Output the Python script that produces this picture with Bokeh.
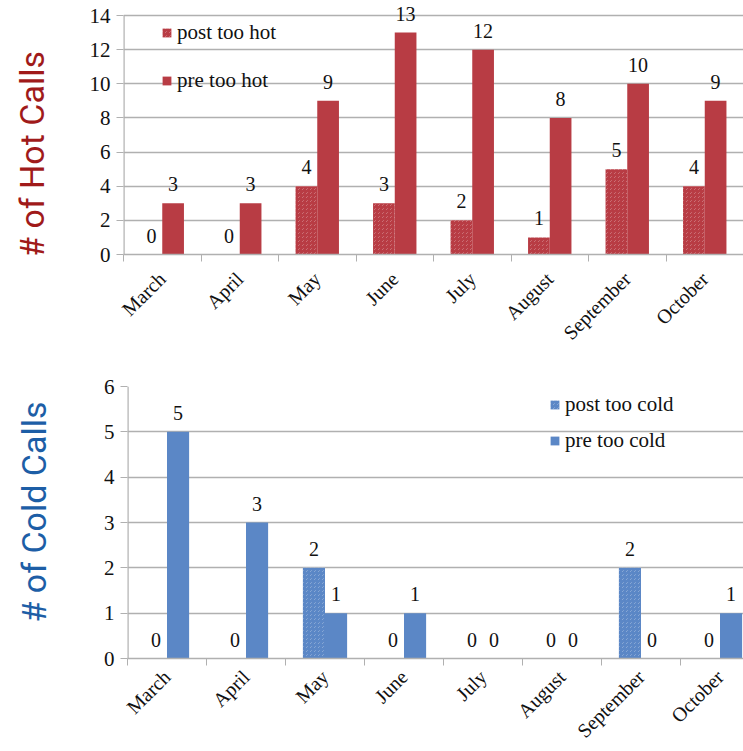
import math
from bokeh.plotting import figure
from bokeh.models import ColumnDataSource, FixedTicker, Legend, LegendItem, LabelSet, Label
from bokeh.layouts import column, row
from bokeh.embed import file_html
from bokeh.resources import INLINE

months = ["March", "April", "May", "June", "July", "August", "September", "October"]
hot_post = [0, 0, 4, 3, 2, 1, 5, 4]
hot_pre = [3, 3, 9, 13, 12, 8, 10, 9]
cold_post = [0, 0, 2, 0, 0, 0, 2, 0]
cold_pre = [5, 3, 1, 1, 0, 0, 0, 1]
hot_yticks = [0, 2, 4, 6, 8, 10, 12, 14]
cold_yticks = [0, 1, 2, 3, 4, 5, 6]

SERIF = "Liberation Serif"
GRID = "#b0b0b0"
BW = 0.28
TITLE_W = 70


def make(post, pre, yticks, y_end, color, names, frame_w, x_end, frame_h,
         left, top, bottom, legend_loc, spacing, standoff):
    n = len(months)
    centers = [i + 0.5 for i in range(n)]
    p = figure(width=743 - TITLE_W, frame_width=frame_w, frame_height=frame_h,
               x_range=(0, x_end), y_range=(yticks[0], y_end),
               output_backend="svg", toolbar_location=None,
               min_border_left=left, min_border_top=top, min_border_bottom=bottom, min_border_right=0)
    p.outline_line_color = None
    p.xgrid.visible = False
    p.ygrid.ticker = FixedTicker(ticks=yticks)
    p.ygrid.grid_line_color = GRID
    p.ygrid.grid_line_width = 1.3

    src = ColumnDataSource(dict(
        xpost=[c - BW / 2 for c in centers], xpre=[c + BW / 2 for c in centers],
        post=post, pre=pre,
        tpost=[str(v) for v in post], tpre=[str(v) for v in pre]))
    r_post = p.vbar(x="xpost", top="post", width=BW, source=src, fill_color="white",
                    line_color=None, hatch_pattern="criss_cross", hatch_color=color,
                    hatch_scale=4, hatch_weight=1.9)
    r_pre = p.vbar(x="xpre", top="pre", width=BW, source=src, fill_color=color, line_color=None)
    for xcol, tcol, ycol in (("xpost", "tpost", "post"), ("xpre", "tpre", "pre")):
        p.add_layout(LabelSet(x=xcol, y=ycol, text=tcol, source=src, text_align="center",
                              text_baseline="bottom", y_offset=12, text_font=SERIF,
                              text_font_size="20px", text_color="#111111"))

    # y axis line only over the ticked span
    p.segment(x0=[0], y0=[yticks[0]], x1=[0], y1=[yticks[-1]], line_color=GRID, line_width=2.4)

    xa = p.xaxis[0]
    xa.ticker = FixedTicker(ticks=centers, minor_ticks=list(range(n + 1)))
    xa.major_label_overrides = {c: m for c, m in zip(centers, months)}
    xa.major_label_orientation = math.pi / 4
    xa.major_tick_line_color = None
    xa.major_tick_out = 0
    xa.minor_tick_line_color = GRID
    xa.minor_tick_out = 7
    xa.minor_tick_in = 0
    xa.axis_line_color = GRID
    xa.axis_line_width = 1.3
    xa.major_label_text_font = SERIF
    xa.major_label_text_font_size = "20px"
    xa.major_label_text_color = "#111111"
    xa.major_label_standoff = standoff

    ya = p.yaxis[0]
    ya.ticker = FixedTicker(ticks=yticks)
    ya.minor_tick_line_color = None
    ya.major_tick_line_color = GRID
    ya.major_tick_out = 7
    ya.major_tick_in = 0
    ya.axis_line_color = None
    ya.major_label_text_font = SERIF
    ya.major_label_text_font_size = "21px"
    ya.major_label_text_color = "#111111"
    ya.major_label_standoff = 6

    legend = Legend(items=[LegendItem(label=names[0], renderers=[r_post]),
                           LegendItem(label=names[1], renderers=[r_pre])],
                    location=legend_loc, orientation="vertical",
                    glyph_width=11, glyph_height=11, label_height=20, label_standoff=5,
                    spacing=spacing, padding=0, margin=0, border_line_color=None,
                    background_fill_alpha=0, label_text_font=SERIF,
                    label_text_font_size="21px", label_text_color="#111111")
    p.add_layout(legend)
    return p


def title_fig(text, color, height, frame_h, cx, cy):
    # the row aligns this figure's frame with the chart frame beside it
    t = figure(width=TITLE_W, height=height, x_range=(0, TITLE_W), y_range=(0, frame_h),
               output_backend="svg", toolbar_location=None,
               x_axis_location=None, y_axis_location=None,
               min_border_left=0, min_border_right=0, min_border_top=0, min_border_bottom=0)
    t.outline_line_color = None
    t.grid.visible = False
    t.add_layout(Label(x=cx, y=cy, text=text, angle=math.pi / 2, text_align="center",
                       text_baseline="middle", text_font="Roboto", text_font_size="34px",
                       text_color=color))
    return t


H1 = 354
H2 = 397
p1 = make(hot_post, hot_pre, hot_yticks, 14 * 253 / 239, "#b83c44",
          ["post too hot", "pre too hot"], 620, 8.0, 253, 123 - TITLE_W, 1, 100,
          (38, 161), 23, 14)
p2 = make(cold_post, cold_pre, cold_yticks, 6, "#5b87c6",
          ["post too cold", "pre too cold"], 616, 616 / 79, 272, 127 - TITLE_W, 32, 93,
          (422, 205), 11, 8)
t1 = title_fig("# of Hot Calls", "#a01a1a", H1, 253, 31, 100)
t2 = title_fig("# of Cold Calls", "#1d5ea6", H2, 272, 33, 146)

layout = column(row(t1, p1, spacing=0), row(t2, p2, spacing=0), spacing=0)
open("out.html", "w").write(file_html(layout, INLINE))
